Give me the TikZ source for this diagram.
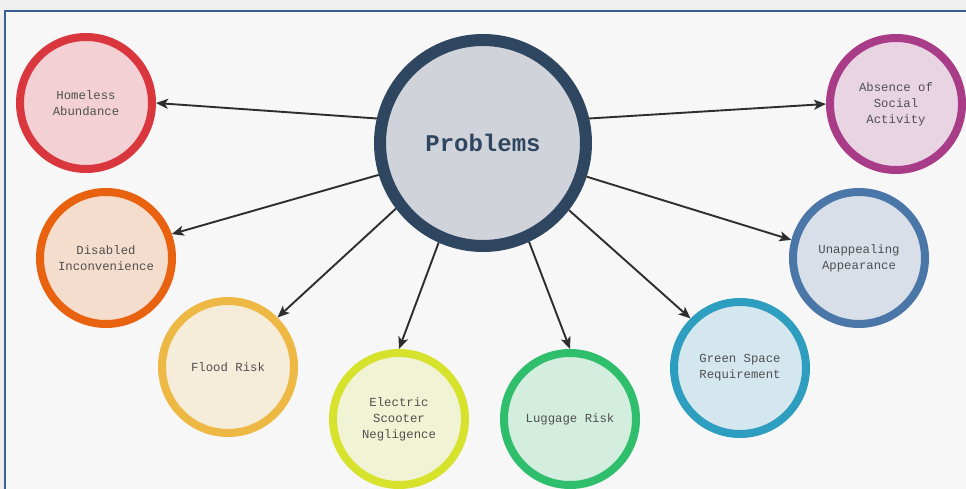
\documentclass[tikz,border=0pt]{standalone}
\usepackage{fontspec}
\setmonofont{Liberation Mono}
\usetikzlibrary{arrows.meta}

\definecolor{bandgray}{HTML}{EFEFEF}
\definecolor{paper}{HTML}{F7F7F7}
\definecolor{frameblue}{HTML}{3A5F95}
\definecolor{textgray}{HTML}{505050}
\definecolor{arrowgray}{HTML}{2E2E2E}
\definecolor{navyline}{HTML}{2F4660}
\definecolor{navyfill}{HTML}{D0D4DA}
\definecolor{redline}{HTML}{D9363E}
\definecolor{redfill}{HTML}{F3D0D4}
\definecolor{orangeline}{HTML}{E8620F}
\definecolor{orangefill}{HTML}{F5DDCE}
\definecolor{goldline}{HTML}{EDB944}
\definecolor{goldfill}{HTML}{F6ECDA}
\definecolor{limeline}{HTML}{D6E22B}
\definecolor{limefill}{HTML}{F1F3D5}
\definecolor{greenline}{HTML}{2FBE6C}
\definecolor{greenfill}{HTML}{D3EDDF}
\definecolor{tealline}{HTML}{2E9EC0}
\definecolor{tealfill}{HTML}{D4E7EE}
\definecolor{blueline}{HTML}{4A76A8}
\definecolor{bluefill}{HTML}{D8DFE9}
\definecolor{plumline}{HTML}{A83C86}
\definecolor{plumfill}{HTML}{E9D4E4}

\tikzset{
	issue/.style = {circle, minimum size = 132pt, inner sep = 0pt, line width = 8pt, align = center, text = textgray, font = \ttfamily\fontsize{12.3}{16}\selectfont},
	hub/.style = {circle, minimum size = 206pt, inner sep = 0pt, line width = 12pt, draw = navyline, fill = navyfill, text = navyline, font = \ttfamily\bfseries\fontsize{24}{28}\selectfont},
	link/.style = {-{Stealth[length = 12pt, width = 10pt, inset = 3pt]}, line width = 1.9pt, draw = arrowgray}
}

\begin{document}
\begin{tikzpicture}[x = 1pt, y = -1pt]
	\useasboundingbox (0,0) rectangle (966,489);
	
	% page and frame
	\fill [bandgray] (0,0) rectangle (966,489);
	\fill [paper] (5,11) rectangle (966,489);
	\draw [frameblue, line width = 1.5pt] (966,11) -- (5,11) -- (5,489);
	
	\node [hub] (problems) at (483,143) {Problems};
	
	\node [issue, draw = redline, fill = redfill] (homeless) at (86,103) {Homeless\\Abundance};
	\node [issue, draw = orangeline, fill = orangefill] (disabled) at (106,258) {Disabled\\Inconvenience};
	\node [issue, draw = goldline, fill = goldfill] (flood) at (228,367) {Flood Risk};
	\node [issue, draw = limeline, fill = limefill] (scooter) at (399,419) {Electric\\Scooter\\Negligence};
	\node [issue, draw = greenline, fill = greenfill] (luggage) at (570,419) {Luggage Risk};
	\node [issue, draw = tealline, fill = tealfill] (green) at (740,368) {Green Space\\Requirement};
	\node [issue, draw = blueline, fill = bluefill] (appearance) at (859,258) {Unappealing\\Appearance};
	\node [issue, draw = plumline, fill = plumfill] (social) at (896,104) {Absence of\\Social\\Activity};
	
	\draw [link] (problems.167) -- (homeless.0);
	\draw [link] (problems.197) -- (disabled.20);
	\draw [link] (problems.217) -- (flood.45);
	\draw [link] (problems.246) -- (scooter.90);
	\draw [link] (problems.295) -- (luggage.90);
	\draw [link] (problems.322) -- (green.135);
	\draw [link] (problems.342) -- (appearance.165);
	\draw [link] (problems.13) -- (social.180);
\end{tikzpicture}
\end{document}
